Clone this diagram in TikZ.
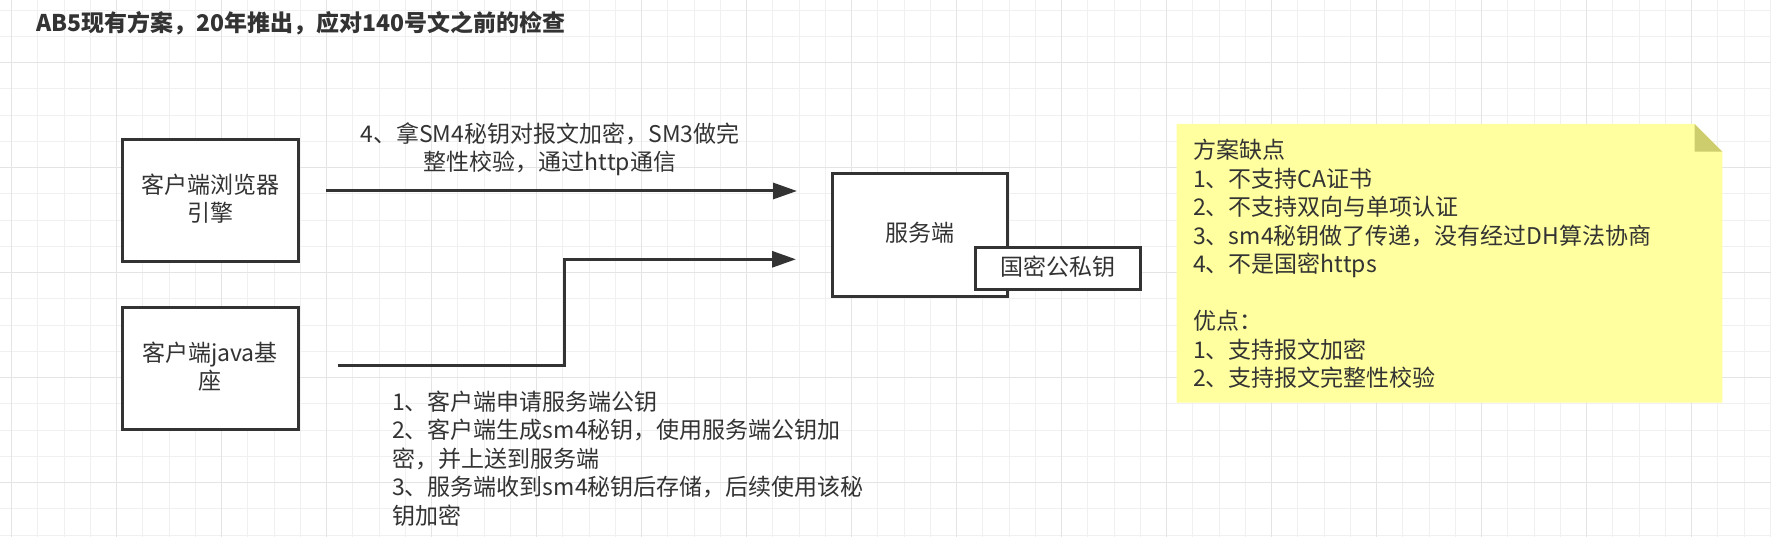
\documentclass[tikz,border=0pt]{standalone}
\usepackage{fontspec}
\setmainfont{Noto Sans CJK SC}
\usetikzlibrary{arrows.meta}
\definecolor{ink}{HTML}{333333}
\definecolor{notefill}{HTML}{FFFFA0}
\definecolor{foldfill}{HTML}{CDCD6E}
\definecolor{gridminor}{HTML}{F0F0F0}
\definecolor{gridmajor}{HTML}{E4E4E4}
\newcommand\mystrutA{\rule[-7.5pt]{0pt}{28.5pt}}
\newcommand\mystrutB{\rule[-7pt]{0pt}{26.7pt}}
\newcommand\bodyfont{\fontsize{23pt}{28.5pt}\selectfont}
\tikzset{
  boxnode/.style={draw=ink, line width=3pt, fill=white, inner sep=0pt,
    minimum width=176pt, minimum height=122pt, align=center, font=\bodyfont, text=ink},
  txtnode/.style={inner sep=0pt, font=\bodyfont, text=ink},
  conn/.style={draw=ink, line width=3pt, -{Triangle[length=24pt,width=16pt]}},
  gminor/.style={draw=gridminor, line width=1pt},
  gmajor/.style={draw=gridmajor, line width=1.2pt}
}
\begin{document}
\begin{tikzpicture}[x=1pt,y=-1pt]
\useasboundingbox (0,0) rectangle (1771,537);
\fill[white] (0,0) rectangle (1771,537);
% grid
\foreach \k in {0,...,67}{
  \pgfmathsetmacro\gx{11.7+26.25*\k}
  \draw[gminor] (\gx,0) -- (\gx,537);
}
\foreach \k in {0,...,20}{
  \pgfmathsetmacro\gy{10.2+26.25*\k}
  \draw[gminor] (0,\gy) -- (1771,\gy);
}
\foreach \k in {0,4,...,64}{
  \pgfmathsetmacro\gx{11.7+26.25*\k}
  \draw[gmajor] (\gx,0) -- (\gx,537);
}
\foreach \k in {2,6,...,18}{
  \pgfmathsetmacro\gy{10.2+26.25*\k}
  \draw[gmajor] (0,\gy) -- (1771,\gy);
}
% title
\node[inner sep=0pt, anchor=west, text=ink, font=\bfseries\fontsize{23pt}{27pt}\selectfont] (title) at (36,23) {AB5现有方案，20年推出，应对140号文之前的检查};
% boxes
\node[boxnode] (browser) at (210,201) {客户端浏览器\mystrutA\\引擎\mystrutA};
\node[boxnode] (java) at (210,368.5) {客户端java基\mystrutA\\座\mystrutA};
\node[boxnode, minimum width=175.7pt] (server) at (919.9,235) {服务端\mystrutA};
\node[boxnode, minimum width=165.3pt, minimum height=42pt] (key) at (1058.3,268.3) {国密公私钥\mystrutA};
% connectors
\coordinate (a1s) at (326,191);
\coordinate (a1e) at (797,191);
\coordinate (a2s) at (337.7,365.7);
\coordinate (a2b) at (564,365.7);
\coordinate (a2e) at (796,259.3);
\draw[conn] (a1s) -- (a1e);
\draw[conn] (a2s) -- (a2b) |- (a2e);
% labels
\node[txtnode, align=center] (lab1) at (550,150.3) {4、拿SM4秘钥对报文加密，SM3做完\mystrutB\\整性校验，通过http通信\mystrutB};
\node[txtnode, align=left, anchor=west] (lab2) at (392,460.3) {1、客户端申请服务端公钥\mystrutA\\2、客户端生成sm4秘钥，使用服务端公钥加\mystrutA\\密，并上送到服务端\mystrutA\\3、服务端收到sm4秘钥后存储，后续使用该秘\mystrutA\\钥加密\mystrutA};
% note
\fill[notefill] (1176.6,124) -- (1694.6,124) -- (1722.3,151.7) -- (1722.3,402.7) -- (1176.6,402.7) -- cycle;
\fill[foldfill] (1694.6,124) -- (1694.6,151.7) -- (1722.3,151.7) -- cycle;
\node[txtnode, align=left, anchor=west] (note) at (1193,266.2) {方案缺点\mystrutA\\1、不支持CA证书\mystrutA\\2、不支持双向与单项认证\mystrutA\\3、sm4秘钥做了传递，没有经过DH算法协商\mystrutA\\4、不是国密https\mystrutA\\\mystrutA\\优点：\mystrutA\\1、支持报文加密\mystrutA\\2、支持报文完整性校验\mystrutA};
\end{tikzpicture}
\end{document}
